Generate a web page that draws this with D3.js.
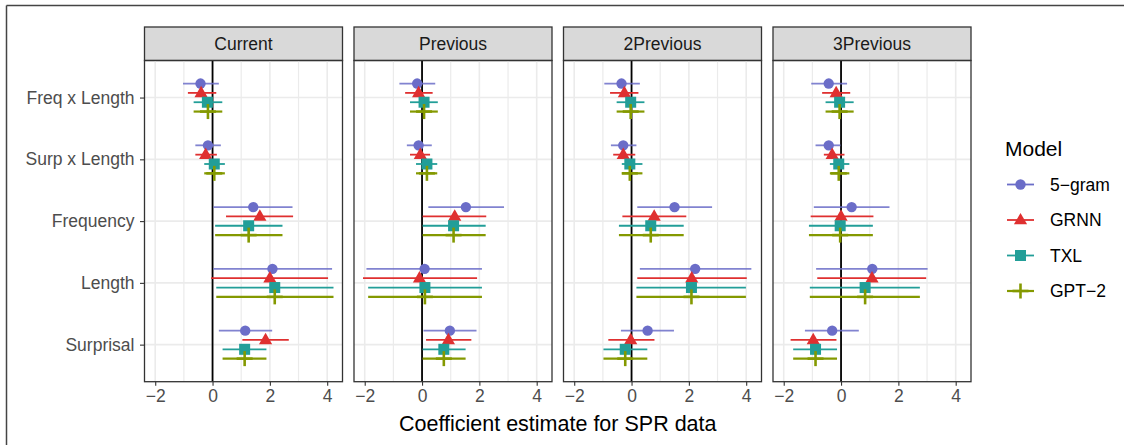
<!DOCTYPE html>
<html><head><meta charset="utf-8">
<script src="https://cdn.jsdelivr.net/npm/d3@7"></script>
<style>body{margin:0;background:#fff;} text{font-family:"Liberation Sans",Arial,sans-serif;}</style>
</head><body><svg id="c" width="1124" height="445"></svg>
<script>
const panels = ["Current", "Previous", "2Previous", "3Previous"];
const categories = ["Freq x Length", "Surp x Length", "Frequency", "Length", "Surprisal"];
const models = ["5-gram", "GRNN", "TXL", "GPT-2"];
const modelLabels = ["5\u2212gram", "GRNN", "TXL", "GPT\u22122"];
const xTicks = [-2, 0, 2, 4];
const xMinor = [-1, 1, 3];
// [estimate, low, high] per panel -> per category
const gram5 = [
  [[-0.42,-1.03,0.22],[-0.16,-0.60,0.29],[1.42,0.03,2.79],[2.09,0.03,4.17],[1.14,0.22,2.08]],
  [[-0.17,-0.79,0.46],[-0.12,-0.53,0.34],[1.53,0.22,2.86],[0.09,-1.94,2.09],[0.97,0.05,1.90]],
  [[-0.35,-0.95,0.29],[-0.29,-0.72,0.17],[1.50,0.20,2.81],[2.22,0.29,4.18],[0.56,-0.37,1.48]],
  [[-0.43,-1.04,0.21],[-0.43,-0.89,-0.02],[0.37,-0.95,1.69],[1.09,-0.87,3.02],[-0.31,-1.26,0.62]]
];
const grnn = [
  [[-0.40,-0.86,0.13],[-0.24,-0.60,0.15],[1.65,0.47,2.81],[2.00,-0.05,4.03],[1.85,1.04,2.66]],
  [[-0.12,-0.59,0.37],[-0.06,-0.42,0.28],[1.14,0.02,2.24],[-0.09,-2.06,1.92],[0.92,0.14,1.72]],
  [[-0.25,-0.75,0.24],[-0.29,-0.64,0.13],[0.79,-0.32,1.91],[2.10,0.20,4.02],[-0.03,-0.81,0.80]],
  [[-0.17,-0.66,0.32],[-0.31,-0.60,0.12],[0.00,-1.06,1.13],[1.08,-0.83,2.97],[-0.97,-1.76,-0.16]]
];
const txl = [
  [[-0.18,-0.66,0.34],[0.06,-0.29,0.43],[1.26,0.09,2.44],[2.17,0.13,4.22],[1.12,0.35,1.88]],
  [[0.07,-0.42,0.55],[0.17,-0.21,0.53],[1.10,0.02,2.22],[0.10,-1.88,2.09],[0.76,0.02,1.52]],
  [[-0.03,-0.52,0.45],[-0.06,-0.34,0.38],[0.67,-0.44,1.82],[2.09,0.17,3.99],[-0.22,-0.98,0.55]],
  [[-0.05,-0.54,0.44],[-0.08,-0.39,0.29],[-0.03,-1.12,1.11],[0.84,-1.09,2.75],[-0.89,-1.67,-0.14]]
];
const gpt2 = [
  [[-0.16,-0.66,0.34],[0.06,-0.29,0.43],[1.26,0.09,2.44],[2.17,0.13,4.22],[1.12,0.35,1.88]],
  [[0.07,-0.42,0.55],[0.17,-0.21,0.53],[1.10,0.02,2.22],[0.10,-1.88,2.09],[0.76,0.02,1.52]],
  [[-0.03,-0.52,0.45],[-0.06,-0.34,0.38],[0.67,-0.44,1.82],[2.09,0.17,3.99],[-0.22,-0.98,0.55]],
  [[-0.05,-0.54,0.44],[-0.08,-0.39,0.29],[-0.03,-1.12,1.11],[0.84,-1.09,2.75],[-0.89,-1.67,-0.14]]
];
const seriesData = [gram5, grnn, txl, gpt2];
const colors = ["#6b6dc8", "#df3030", "#229e98", "#849900"];

const svg = d3.select("#c");
svg.append("line").attr("x1",6.5).attr("x2",6.5).attr("y1",5.5).attr("y2",445).attr("stroke","#444").attr("stroke-width",1.5);
svg.append("line").attr("x1",6.5).attr("x2",1124).attr("y1",5.5).attr("y2",5.5).attr("stroke","#444").attr("stroke-width",1.5);

const panelW = 198, panelGap = 11.5, left0 = 144.5;
const stripTop = 27, stripBot = 60.5, plotTop = 60.5, plotBot = 381.7;
const FS = 17.5;

const all = seriesData.flat(2);
const lo = d3.min(all, d => d[1]), hi = d3.max(all, d => d[2]);
const pad = (hi - lo) * 0.05;

const y = d3.scalePoint().domain(categories).range([plotTop, plotBot]).padding(0.6);
const dodge = d3.scalePoint().domain(models).range([-14, 14]);

function marker(g, m, x, yy, col) {
  if (m === 0) g.append("circle").attr("cx",x).attr("cy",yy).attr("r",5.2).attr("fill",col);
  else if (m === 1) g.append("path").attr("d", d3.symbol(d3.symbolTriangle, 75)()).attr("transform",`translate(${x},${yy+0.5})`).attr("fill",col);
  else if (m === 2) g.append("rect").attr("x",x-5.5).attr("y",yy-5.5).attr("width",11).attr("height",11).attr("fill",col);
  else {
    g.append("line").attr("x1",x-8).attr("x2",x+8).attr("y1",yy).attr("y2",yy).attr("stroke",col).attr("stroke-width",2.6);
    g.append("line").attr("x1",x).attr("x2",x).attr("y1",yy-7.5).attr("y2",yy+7.5).attr("stroke",col).attr("stroke-width",2.6);
  }
}

panels.forEach((p, pi) => {
  const x0 = left0 + pi * (panelW + panelGap);
  const x = d3.scaleLinear().domain([lo - pad, hi + pad]).range([x0, x0 + panelW]);
  const g = svg.append("g");
  g.append("rect").attr("x",x0).attr("y",stripTop).attr("width",panelW).attr("height",stripBot-stripTop)
    .attr("fill","#d9d9d9").attr("stroke","#333").attr("stroke-width",1.3);
  g.append("text").attr("x",x0+panelW/2).attr("y",(stripTop+stripBot)/2).attr("dy","0.35em")
    .attr("text-anchor","middle").attr("font-size",FS).attr("fill","#1a1a1a").text(p);
  xMinor.forEach(t => g.append("line").attr("x1",x(t)).attr("x2",x(t)).attr("y1",plotTop).attr("y2",plotBot).attr("stroke","#ebebeb").attr("stroke-width",1.2));
  xTicks.forEach(t => g.append("line").attr("x1",x(t)).attr("x2",x(t)).attr("y1",plotTop).attr("y2",plotBot).attr("stroke","#ebebeb").attr("stroke-width",1.6));
  categories.forEach(c => g.append("line").attr("x1",x0).attr("x2",x0+panelW).attr("y1",y(c)).attr("y2",y(c)).attr("stroke","#ebebeb").attr("stroke-width",1.6));
  g.append("line").attr("x1",x(0)).attr("x2",x(0)).attr("y1",plotTop).attr("y2",plotBot).attr("stroke","#000").attr("stroke-width",1.8);
  seriesData.forEach((s, mi) => {
    s[pi].forEach((d, ci) => {
      const yy = y(categories[ci]) + dodge(models[mi]);
      g.append("line").attr("x1",x(d[1])).attr("x2",x(d[2])).attr("y1",yy).attr("y2",yy)
        .attr("stroke",colors[mi]).attr("stroke-width", mi===3 ? 2.2 : 1.8).attr("stroke-opacity", mi===0 ? 0.85 : 1);
    });
  });
  seriesData.forEach((s, mi) => {
    s[pi].forEach((d, ci) => {
      const yy = y(categories[ci]) + dodge(models[mi]);
      marker(g, mi, x(d[0]), yy, colors[mi]);
    });
  });
  g.append("rect").attr("x",x0).attr("y",plotTop).attr("width",panelW).attr("height",plotBot-plotTop)
    .attr("fill","none").attr("stroke","#333").attr("stroke-width",1.3);
  const ax = g.append("g").attr("transform",`translate(0,${plotBot})`)
    .call(d3.axisBottom(x).tickValues(xTicks).tickSize(4).tickPadding(4).tickFormat(d => d < 0 ? "\u2212" + Math.abs(d) : d));
  ax.select(".domain").remove();
  ax.selectAll("line").attr("stroke","#333").attr("stroke-width",1.1);
  ax.selectAll("text").attr("font-size",FS).attr("fill","#4d4d4d").attr("font-family","Liberation Sans, Arial, sans-serif");
});

const ay = svg.append("g").attr("transform",`translate(${left0},0)`)
  .call(d3.axisLeft(y).tickSize(4.5).tickPadding(5.5));
ay.select(".domain").remove();
ay.selectAll("line").attr("stroke","#333").attr("stroke-width",1.1);
ay.selectAll("text").attr("font-size",FS).attr("fill","#4d4d4d").attr("font-family","Liberation Sans, Arial, sans-serif");

svg.append("text").attr("x", left0 + (4*panelW + 3*panelGap)/2).attr("y", 423).attr("dy","0.35em")
  .attr("text-anchor","middle").attr("font-size",21.5).attr("fill","#000").text("Coefficient estimate for SPR data");

const lg = svg.append("g");
lg.append("text").attr("x",1005).attr("y",149).attr("dy","0.35em").attr("font-size",21).attr("fill","#000").text("Model");
models.forEach((m, i) => {
  const yy = 184.5 + i * 35.5;
  lg.append("line").attr("x1",1007).attr("x2",1034).attr("y1",yy).attr("y2",yy).attr("stroke",colors[i]).attr("stroke-width", i===3?2.2:1.8);
  marker(lg, i, 1020.5, yy, colors[i]);
  lg.append("text").attr("x",1050).attr("y",yy).attr("dy","0.35em").attr("font-size",FS).attr("fill","#000").text(modelLabels[i]);
});
</script></body></html>
